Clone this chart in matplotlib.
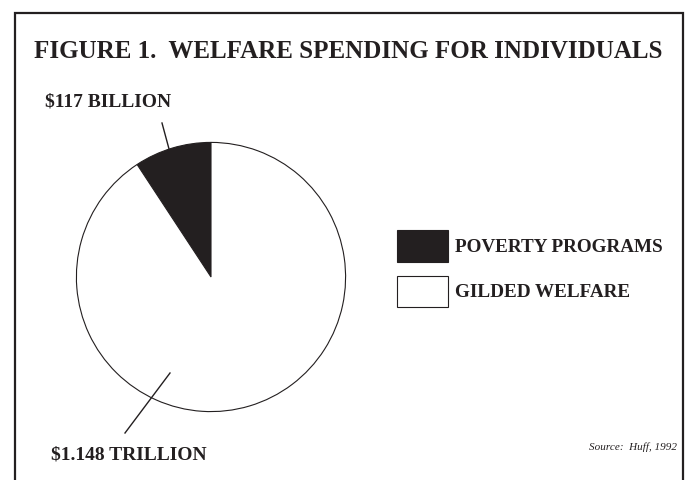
import matplotlib.pyplot as plt
from matplotlib.patches import Rectangle
from matplotlib.lines import Line2D

# data
labels = ["POVERTY PROGRAMS", "GILDED WELFARE"]
amounts = [117, 1148]  # billions of dollars
amount_text = ["$117 BILLION", "$1.148 TRILLION"]
colors = ["#231f20", "white"]
ink = "#231f20"

W, H = 687, 480
fig = plt.figure(figsize=(W / 100, H / 100), dpi=100)
plt.rcParams['font.family'] = ['Liberation Serif', 'DejaVu Serif']

def fx(px):
    return px / W

def fy(py):
    return 1 - py / H

# outer frame (bottom edge runs off the page)
fig.add_artist(Rectangle((fx(15), -0.05), fx(683) - fx(15), fy(13) + 0.05,
                         transform=fig.transFigure, fill=False,
                         edgecolor=ink, linewidth=1.6))

fig.text(fx(348), fy(52), "FIGURE 1.  WELFARE SPENDING FOR INDIVIDUALS",
         ha="center", va="center", fontsize=18, fontweight="bold", color=ink)

# pie
ax = fig.add_axes([fx(76), fy(412), fx(346) - fx(76), fy(142) - fy(412)])
wedges, _ = ax.pie(amounts, colors=colors, startangle=90, counterclock=True,
                   radius=1, wedgeprops=dict(edgecolor=ink, linewidth=0.8))
ax.set_xlim(-1.003, 1.003)
ax.set_ylim(-1.003, 1.003)
ax.set_aspect("auto")
ax.axis("off")

# labels with leader lines
fig.text(fx(45), fy(102), amount_text[0], ha="left", va="center",
         fontsize=14, fontweight="bold", color=ink)
fig.add_artist(Line2D([fx(162), fx(172)], [fy(123), fy(160)],
                      transform=fig.transFigure, color=ink, linewidth=1.0))
fig.text(fx(51), fy(455), amount_text[1], ha="left", va="center",
         fontsize=14, fontweight="bold", color=ink)
fig.add_artist(Line2D([fx(170), fx(125)], [fy(373), fy(433)],
                      transform=fig.transFigure, color=ink, linewidth=1.0))

# legend
fig.legend(wedges, labels, loc="upper left",
           bbox_to_anchor=(fx(397), fy(230)), bbox_transform=fig.transFigure,
           frameon=False, borderpad=0, borderaxespad=0,
           prop=dict(family="Liberation Serif", weight="bold", size=13.8),
           handlelength=2.65, handleheight=2.17, handletextpad=0.4,
           labelspacing=0.72, labelcolor=ink)

fig.text(fx(677), fy(447), "Source:  Huff, 1992", ha="right", va="center",
         fontsize=8, style="italic", color=ink)

fig.savefig("out.png", dpi=100)
